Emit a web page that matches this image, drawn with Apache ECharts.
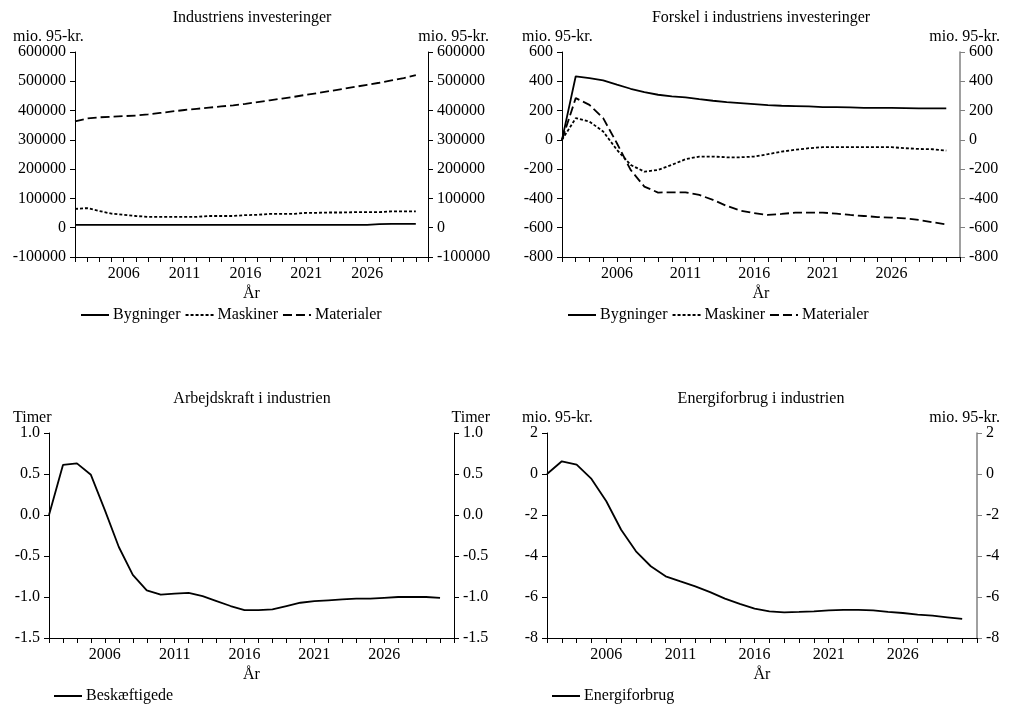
<!DOCTYPE html>
<html>
<head>
<meta charset="utf-8">
<script src="https://cdn.jsdelivr.net/npm/echarts@6/dist/echarts.min.js"></script>
<style>html,body{margin:0;padding:0;background:#fff}#c{width:1010px;height:706px}</style>
</head>
<body>
<div id="c"></div>
<script>
const years = [2002,2003,2004,2005,2006,2007,2008,2009,2010,2011,2012,2013,2014,2015,2016,2017,2018,2019,2020,2021,2022,2023,2024,2025,2026,2027,2028,2029,2030];
const xLabelYears = [2006,2011,2016,2021,2026];

// Industriens investeringer
const invBygninger = [10000,10000,10000,10000,10000,10000,10000,10000,10000,10000,10000,10000,10000,10000,10000,10000,10000,10000,10000,10000,10000,10000,10000,10000,10000,12000,13000,13000,13000];
const invMaskiner = [64000,67000,57000,48000,44000,40000,37000,37000,37000,37000,37000,40000,40000,40000,43000,44000,47000,47000,47000,51000,51000,52000,52000,53000,53000,53000,56000,56000,56000];
const invMaterialer = [363000,373000,377000,379000,381000,383000,387000,392000,397000,402000,406000,410000,414000,418000,423000,429000,435000,441000,447000,454000,460000,467000,474000,481000,488000,495000,503000,511000,521000];

// Forskel i industriens investeringer
const difBygninger = [0,434,422,406,377,349,326,308,297,290,278,267,258,251,244,237,233,231,228,224,224,222,219,219,219,217,215,215,215];
const difMaskiner = [0,148,125,57,-68,-171,-217,-205,-171,-132,-114,-114,-119,-119,-114,-98,-80,-68,-57,-50,-50,-50,-50,-50,-50,-57,-62,-64,-73];
const difMaterialer = [0,285,239,148,-23,-205,-319,-360,-358,-358,-376,-410,-451,-483,-501,-513,-506,-497,-497,-497,-504,-513,-520,-527,-531,-536,-547,-563,-577];

// Arbejdskraft i industrien
const beskaeftigede = [0,0.61,0.63,0.49,0.06,-0.39,-0.73,-0.92,-0.97,-0.96,-0.95,-0.99,-1.05,-1.11,-1.16,-1.16,-1.15,-1.11,-1.07,-1.05,-1.04,-1.03,-1.02,-1.02,-1.01,-1.00,-1.00,-1.00,-1.01];

// Energiforbrug i industrien
const energiforbrug = [0,0.62,0.46,-0.24,-1.33,-2.72,-3.77,-4.5,-4.99,-5.24,-5.48,-5.76,-6.08,-6.34,-6.57,-6.70,-6.75,-6.73,-6.70,-6.65,-6.63,-6.63,-6.65,-6.73,-6.78,-6.86,-6.91,-6.99,-7.07];

const FONT = 'Liberation Serif';
const FS = 16;
const tickYears = years.concat([2031]);

const panels = [
  {title:'Industriens investeringer', unit:'mio. 95-kr.', left:75, top:52, width:353, height:205, min:-100000, max:600000, interval:100000, dec:0, rightColor:'#000',
   series:[['Bygninger',invBygninger,'solid'],['Maskiner',invMaskiner,[3,2]],['Materialer',invMaterialer,[9,4]]],
   titleX:252, unitL:13, unitR:489, legendLeft:80, legendTop:307},
  {title:'Forskel i industriens investeringer', unit:'mio. 95-kr.', left:562, top:52, width:398, height:205, min:-800, max:600, interval:200, dec:0, rightColor:'#808080',
   series:[['Bygninger',difBygninger,'solid'],['Maskiner',difMaskiner,[3,2]],['Materialer',difMaterialer,[9,4]]],
   titleX:761, unitL:522, unitR:1000, legendLeft:567, legendTop:307},
  {title:'Arbejdskraft i industrien', unit:'Timer', left:49, top:433, width:405, height:205, min:-1.5, max:1.0, interval:0.5, dec:1, rightColor:'#000',
   series:[['Beskæftigede',beskaeftigede,'solid']],
   titleX:252, unitL:13, unitR:490, legendLeft:53, legendTop:688},
  {title:'Energiforbrug i industrien', unit:'mio. 95-kr.', left:547, top:433, width:430, height:205, min:-8, max:2, interval:2, dec:0, rightColor:'#808080',
   series:[['Energiforbrug',energiforbrug,'solid']],
   titleX:761, unitL:522, unitR:1000, legendLeft:551, legendTop:688}
];

const option = {
  backgroundColor:'#fff',
  animation:false,
  textStyle:{fontFamily:FONT, color:'#000'},
  title:[], grid:[], xAxis:[], yAxis:[], series:[], legend:[]
};

panels.forEach((p, i) => {
  const ts = {fontFamily:FONT, fontSize:FS, fontWeight:'normal', color:'#000'};
  option.title.push({text:p.title, left:p.titleX, top:p.top-42, textAlign:'center', textStyle:ts, padding:0});
  option.title.push({text:p.unit, left:p.unitL, top:p.top-23, textStyle:ts, padding:0});
  option.title.push({text:p.unit, left:p.unitR, top:p.top-23, textAlign:'right', textStyle:ts, padding:0});
  option.grid.push({left:p.left, top:p.top, width:p.width, height:p.height, containLabel:false});
  option.xAxis.push({
    type:'value', gridIndex:i, min:2002, max:2031, interval:1,
    name:'År', nameLocation:'middle', nameGap:29, nameTextStyle:{fontFamily:FONT, fontSize:FS, color:'#000'},
    axisLine:{show:true, onZero:false, lineStyle:{color:'#000', width:1}},
    axisTick:{show:true, inside:false, length:5, customValues:tickYears, lineStyle:{color:'#000'}},
    axisLabel:{show:true, customValues:xLabelYears, margin:9, fontFamily:FONT, fontSize:FS, color:'#000', formatter:v=>String(v)},
    splitLine:{show:false}
  });
  const yBase = (pos, color) => ({
    type:'value', gridIndex:i, position:pos, min:p.min, max:p.max, interval:p.interval,
    axisLine:{show:true, onZero:false, lineStyle:{color:color, width: color==='#000'?1:1.5}},
    axisTick:{show:true, inside:false, length:5, lineStyle:{color:color}},
    axisLabel:{margin:9, fontFamily:FONT, fontSize:FS, color:'#000', formatter:v=>Number(v).toFixed(p.dec)},
    splitLine:{show:false}
  });
  option.yAxis.push(yBase('left','#000'));
  option.yAxis.push(yBase('right', p.rightColor));
  const names = [];
  p.series.forEach(s => {
    names.push(s[0]);
    option.series.push({
      name:s[0], type:'line', xAxisIndex:i, yAxisIndex:2*i, symbol:'none', smooth:false,
      lineStyle:{color:'#000', width:1.8, type:s[2]},
      itemStyle:{color:'#000'},
      data: years.map((y,k)=>[y, s[1][k]])
    });
  });
  option.legend.push({
    data:names, left:p.legendLeft, top:p.legendTop, itemWidth:28, itemHeight:14, itemGap:4,
    padding:0, selectedMode:false,
    itemStyle:{opacity:0},
    textStyle:{fontFamily:FONT, fontSize:FS, color:'#000', padding:[0,0,0,-1]}
  });
});

const chart = echarts.init(document.getElementById('c'), null, {renderer:'canvas'});
chart.setOption(option);
</script>
</body>
</html>
